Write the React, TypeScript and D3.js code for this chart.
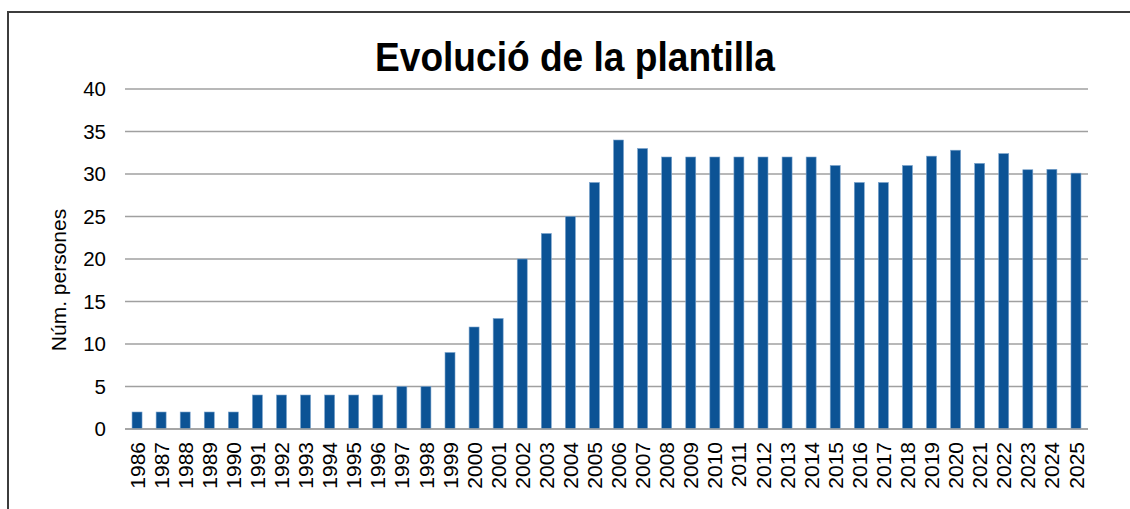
import React from "react";
import * as d3 from "d3";

// Plantilla per any (llegit del gràfic)
const years = [
  "1986", "1987", "1988", "1989", "1990", "1991", "1992", "1993", "1994", "1995",
  "1996", "1997", "1998", "1999", "2000", "2001", "2002", "2003", "2004", "2005",
  "2006", "2007", "2008", "2009", "2010", "2011", "2012", "2013", "2014", "2015",
  "2016", "2017", "2018", "2019", "2020", "2021", "2022", "2023", "2024", "2025",
];
const staff = [
  2, 2, 2, 2, 2, 4, 4, 4, 4, 4,
  4, 5, 5, 9, 12, 13, 20, 23, 25, 29,
  34, 33, 32, 32, 32, 32, 32, 32, 32, 31,
  29, 29, 31, 32.1, 32.8, 31.25, 32.4, 30.5, 30.55, 30.1,
];
const yTicks = [0, 5, 10, 15, 20, 25, 30, 35, 40];

const title = "Evolució de la plantilla";
const yLabel = "Núm. persones";

const font = "'Liberation Sans', Arial, Helvetica, sans-serif";

export default function App() {
  const W = 1130;
  const H = 509;
  const plot = { left: 125, right: 1088, top: 89, bottom: 429 };

  const x = d3.scaleBand<string>()
    .domain(years)
    .range([plot.left, plot.right])
    .paddingInner(0.585)
    .paddingOuter(0.2925);

  const y = d3.scaleLinear()
    .domain([0, 40])
    .range([plot.bottom, plot.top]);

  return (
    <svg
      width={W}
      height={H}
      style={{ position: "absolute", left: 0, top: 0, background: "#fff" }}
      fontFamily={font}
    >
      {/* marc del gràfic */}
      <rect x={8} y={12} width={1300} height={700} fill="none" stroke="#3c3c3c" strokeWidth={2} />

      <text
        x={375}
        y={71}
        fontSize={40}
        fontWeight="bold"
        textLength={400}
        lengthAdjust="spacingAndGlyphs"
        fill="#000"
      >
        {title}
      </text>

      {/* graella */}
      {yTicks.map(t => (
        <g key={t}>
          <line
            x1={plot.left}
            x2={plot.right}
            y1={y(t)}
            y2={y(t)}
            stroke="#a0a0a0"
            strokeWidth={1.5}
          />
          <text x={106} y={y(t)} dy="0.36em" textAnchor="end" fontSize={20.5} fill="#000">
            {t}
          </text>
        </g>
      ))}

      {/* barres */}
      {years.map((yr, i) => (
        <rect
          key={yr}
          x={x(yr)}
          y={y(staff[i])}
          width={x.bandwidth()}
          height={y(0) - y(staff[i])}
          fill="#0c5395"
          stroke="#7aa3cc"
          strokeWidth={0.6}
        />
      ))}

      {/* eix X */}
      <line x1={plot.left} x2={plot.right} y1={y(0)} y2={y(0)} stroke="#a0a0a0" strokeWidth={1.5} />
      {years.map(yr => {
        const cx = (x(yr) ?? 0) + x.bandwidth() / 2;
        return (
          <text
            key={yr}
            transform={`translate(${cx},442) rotate(-90)`}
            dy="0.36em"
            textAnchor="end"
            fontSize={21}
            fill="#000"
          >
            {yr}
          </text>
        );
      })}

      <text
        transform="translate(66,280) rotate(-90)"
        textAnchor="middle"
        fontSize={21}
        fill="#000"
      >
        {yLabel}
      </text>
    </svg>
  );
}
